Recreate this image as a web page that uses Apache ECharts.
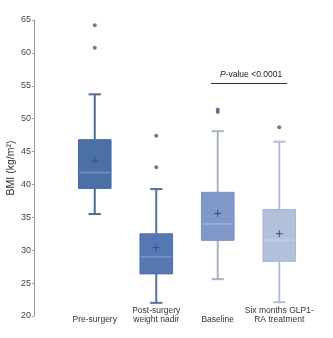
<!DOCTYPE html>
<html><head><meta charset="utf-8">
<script src="https://cdn.jsdelivr.net/npm/echarts@6/dist/echarts.min.js"></script>
<style>html,body{margin:0;padding:0;background:#fff}#c{width:333px;height:338px}</style>
</head><body><div id="c"></div>
<script>
const categories = ['Pre-surgery', 'Post-surgery\nweight nadir', 'Baseline', 'Six months GLP1-\nRA treatment'];
const whiskerLow = [35.5, 22.0, 25.6, 22.1];
const q1 = [39.4, 26.4, 31.5, 28.3];
const median = [41.8, 29.0, 34.0, 31.5];
const q3 = [46.8, 32.5, 38.8, 36.2];
const whiskerHigh = [53.7, 39.3, 48.1, 46.5];
const means = [43.6, 30.4, 35.6, 32.5];
const outliers = [[0, 64.2], [0, 60.8], [1, 47.4], [1, 42.6], [2, 51.0], [2, 51.4], [3, 48.7]];
const yTicks = [20, 25, 30, 35, 40, 45, 50, 55, 60, 65];
const pValueText = 'P-value <0.0001';

const boxFill = ['#4b6fa7', '#5577b2', '#8099c8', '#b3c0dc'];
const boxStroke = ['#46699f', '#5072ab', '#7891c0', '#a9b7d4'];
const whiskerColor = ['#4f6b92', '#56729a', '#a7b3c9', '#b4bed0'];

const boxData = categories.map((c, i) => [i, whiskerLow[i], q1[i], median[i], q3[i], whiskerHigh[i], means[i]]);

function renderBox(params, api) {
  const i = api.value(0);
  const band = api.size([1, 0])[0];
  const bw = band * 0.53;
  const cw = band * 0.2;
  const pLow = api.coord([i, api.value(1)]);
  const pQ1 = api.coord([i, api.value(2)]);
  const pMed = api.coord([i, api.value(3)]);
  const pQ3 = api.coord([i, api.value(4)]);
  const pHigh = api.coord([i, api.value(5)]);
  const pMean = api.coord([i, api.value(6)]);
  const x = pLow[0];
  const wc = whiskerColor[i];
  const ws = { stroke: wc, lineWidth: 2 };
  return {
    type: 'group',
    children: [
      { type: 'line', shape: { x1: x, y1: pHigh[1], x2: x, y2: pQ3[1] }, style: ws },
      { type: 'line', shape: { x1: x, y1: pLow[1], x2: x, y2: pQ1[1] }, style: ws },
      { type: 'line', shape: { x1: x - cw / 2, y1: pHigh[1], x2: x + cw / 2, y2: pHigh[1] }, style: ws },
      { type: 'line', shape: { x1: x - cw / 2, y1: pLow[1], x2: x + cw / 2, y2: pLow[1] }, style: ws },
      { type: 'rect', shape: { x: x - bw / 2, y: pQ3[1], width: bw, height: pQ1[1] - pQ3[1] },
        style: { fill: boxFill[i], stroke: boxStroke[i], lineWidth: 1 } },
      { type: 'line', shape: { x1: x - bw / 2 + 1, y1: pMed[1], x2: x + bw / 2 - 1, y2: pMed[1] },
        style: { stroke: 'rgba(255,255,255,0.2)', lineWidth: 2 } },
      { type: 'line', shape: { x1: x - 3.5, y1: pMean[1], x2: x + 3.5, y2: pMean[1] },
        style: { stroke: '#34507c', lineWidth: 1 } },
      { type: 'line', shape: { x1: x, y1: pMean[1] - 3.5, x2: x, y2: pMean[1] + 3.5 },
        style: { stroke: '#34507c', lineWidth: 1 } }
    ]
  };
}

const chart = echarts.init(document.getElementById('c'), null, { renderer: 'canvas' });
chart.setOption({
  animation: false,
  grid: { left: 64, right: 23, top: 20, bottom: 22, containLabel: false, outerBoundsMode: 'none' },
  xAxis: {
    type: 'category', data: categories, boundaryGap: true,
    axisLine: { show: false }, axisTick: { show: false },
    axisLabel: { fontFamily: 'Liberation Sans', fontSize: 8.5, lineHeight: 9, color: '#333',
      verticalAlign: 'bottom', margin: 8, interval: 0 }
  },
  yAxis: {
    type: 'value', min: yTicks[0], max: yTicks[yTicks.length - 1], interval: 5, offset: 30,
    name: 'BMI (kg/m²)', nameLocation: 'middle', nameGap: 17, nameMoveOverlap: false,
    nameTextStyle: { fontFamily: 'Liberation Sans', fontSize: 10.5, color: '#333' },
    axisLine: { show: true, lineStyle: { color: '#9a9a9a', width: 1 } },
    axisTick: { show: true, length: 2, lineStyle: { color: '#9a9a9a' } },
    axisLabel: { fontFamily: 'Liberation Sans', fontSize: 9, color: '#444', margin: 3 },
    splitLine: { show: false }
  },
  series: [
    { type: 'custom', data: boxData, renderItem: renderBox, encode: { x: 0, y: [1, 5] }, z: 2 },
    { type: 'scatter', data: outliers, symbolSize: 4, itemStyle: { color: '#47597a' }, z: 3 }
  ],
  graphic: [
    { type: 'text', left: 220, top: 70,
      style: { text: '{i|P}-value <0.0001', rich: { i: { fontStyle: 'italic', fontFamily: 'Liberation Sans', fontSize: 8.5, fill: '#222' } },
        fontFamily: 'Liberation Sans', fontSize: 8.5, fill: '#222' } },
    { type: 'line', shape: { x1: 211, y1: 83.5, x2: 287, y2: 83.5 }, style: { stroke: '#333', lineWidth: 1 } }
  ]
});
</script></body></html>
